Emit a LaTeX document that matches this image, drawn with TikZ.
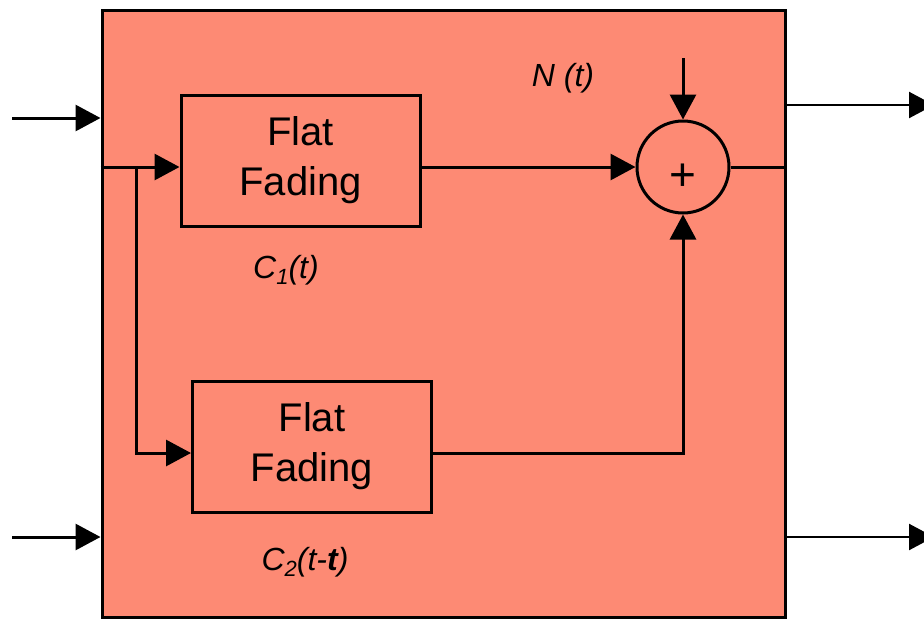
\documentclass[tikz,border=0pt]{standalone}
\usepackage{fontspec}
\setmainfont{Liberation Sans}
\usetikzlibrary{arrows.meta}
\definecolor{salmon}{RGB}{253,138,116}
\newcommand{\subtxt}[1]{\raisebox{-6pt}{\fontsize{22}{22}\selectfont #1}}
\begin{document}
\begin{tikzpicture}[x=1pt,y=-1pt,
  line/.style={line width=3pt},
  thin line/.style={line width=2.4pt},
  arr/.style={-{Triangle[length=25pt,width=26pt]}},
  fade/.style={draw,line width=3pt,minimum width=239pt,minimum height=131pt,inner sep=0pt,align=center,font=\fontsize{40}{50}\selectfont},
  lbl/.style={font=\fontsize{32}{34}\selectfont\itshape}]
\useasboundingbox (0,0) rectangle (924,619);
\node[draw,line width=3pt,fill=salmon,minimum width=683pt,minimum height=607pt,inner sep=0pt] (ch) at (443.5,313.5) {};
\node[fade] (ff1) at (300.5,160.5) {Flat\\Fading};
\node[fade] (ff2) at (312,446.5) {Flat\\Fading};
\node[draw,circle,line width=3pt,minimum size=92pt,inner sep=0pt] (sum) at (683,167) {};
\node[font=\fontsize{46}{46}\selectfont] (plus) at (683,177) {+};
\node[lbl] (nlbl) at (563,78) {N (t)};
\node[lbl] (c1) at (286,270) {C\subtxt{1}(t)};
\node[lbl] (c2) at (305,562) {C\subtxt{2}(t-\textbf{t})};
% inputs
\coordinate (in1) at (12,118);
\coordinate (in2) at (12,537);
\draw[line,arr] (in1) -- (in1 -| ch.west);
\draw[line,arr] (in2) -- (in2 -| ch.west);
% outputs
\coordinate (out1) at (934,105);
\coordinate (out2) at (934,537);
\draw[thin line,arr] (out1 -| ch.east) -- (out1);
\draw[thin line,arr] (out2 -| ch.east) -- (out2);
% inner
\coordinate (split) at (136,167);
\coordinate (lo) at (136,453);
\draw[line] (ch.west |- split) -- (split);
\draw[line,arr] (split) -- (ff1.west |- split);
\draw[line,arr] (split) -- (lo) -- (ff2.west |- lo);
\draw[line,arr] (ff1.east |- split) -- (sum.west);
\draw[line,arr] (ff2.east |- lo) -| (sum.south);
\coordinate (ntop) at (683,58);
\draw[line,arr] (ntop) -- (sum.north);
\draw[line] (sum.east) -- (sum.east -| ch.east);
\end{tikzpicture}
\end{document}
